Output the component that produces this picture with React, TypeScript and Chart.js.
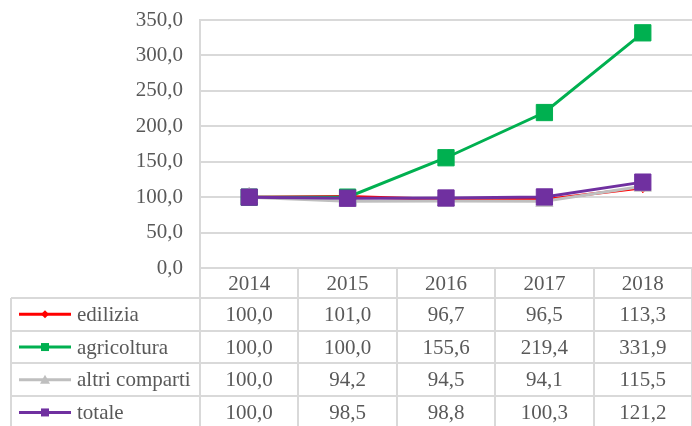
import React, { useEffect, useRef } from 'react';
import { Chart, registerables } from 'chart.js';

Chart.register(...registerables);

const years = ['2014', '2015', '2016', '2017', '2018'];
const seriesNames = ['edilizia', 'agricoltura', 'altri comparti', 'totale'];
const edilizia = [100.0, 101.0, 96.7, 96.5, 113.3];
const agricoltura = [100.0, 100.0, 155.6, 219.4, 331.9];
const altriComparti = [100.0, 94.2, 94.5, 94.1, 115.5];
const totale = [100.0, 98.5, 98.8, 100.3, 121.2];
const yMin = 0;
const yMax = 350;
const yStep = 50;

const colors = ['#FF0000', '#00B050', '#BFBFBF', '#7030A0'];
const markerStyles = ['rectRot', 'rect', 'triangle', 'rect'];
const FONT = '"Liberation Serif", "Times New Roman", serif';
const FONT_SIZE = 21;
const TEXT = '#595959';
const GRID = '#D9D9D9';

const fmt = (v: number) => v.toFixed(1).replace('.', ',');

const tablePlugin = {
  id: 'dataTable',
  afterDraw(chart: any) {
    const ctx = chart.ctx as CanvasRenderingContext2D;
    const area = chart.chartArea;
    const xs = chart.scales.x;
    const H = chart.height;
    const n = years.length;
    const step = (area.right - area.left) / n;
    const top = area.bottom;
    const headerBottom = top + 30;
    const rowH = 32.7;
    const leftX = 11;
    const data = [edilizia, agricoltura, altriComparti, totale];

    ctx.save();
    ctx.strokeStyle = GRID;
    ctx.lineWidth = 2;
    ctx.beginPath();
    for (let i = 0; i <= n; i++) {
      const xi = Math.round(area.left + i * step);
      ctx.moveTo(xi, top);
      ctx.lineTo(xi, H + 10);
    }
    ctx.moveTo(leftX, headerBottom);
    ctx.lineTo(leftX, H + 10);
    for (let r = 0; r <= data.length; r++) {
      const y = Math.round(headerBottom + r * rowH);
      ctx.moveTo(leftX, y);
      ctx.lineTo(area.right + 5, y);
    }
    ctx.stroke();

    ctx.fillStyle = TEXT;
    ctx.font = `${FONT_SIZE}px ${FONT}`;
    ctx.textBaseline = 'middle';
    ctx.textAlign = 'center';
    for (let i = 0; i < n; i++) {
      const cx = xs.getPixelForValue(i);
      ctx.fillText(years[i], cx, top + 16);
      for (let r = 0; r < data.length; r++) {
        const cy = headerBottom + r * rowH + rowH / 2 + 1;
        ctx.fillText(fmt(data[r][i]), cx, cy);
      }
    }

    // legend keys
    for (let r = 0; r < data.length; r++) {
      const cy = headerBottom + r * rowH + rowH / 2;
      ctx.strokeStyle = colors[r];
      ctx.lineWidth = 3;
      ctx.beginPath();
      ctx.moveTo(19, cy);
      ctx.lineTo(71, cy);
      ctx.stroke();
      ctx.fillStyle = colors[r];
      const mx = 45;
      ctx.beginPath();
      if (markerStyles[r] === 'rectRot') {
        ctx.moveTo(mx, cy - 4);
        ctx.lineTo(mx + 4, cy);
        ctx.lineTo(mx, cy + 4);
        ctx.lineTo(mx - 4, cy);
        ctx.closePath();
      } else if (markerStyles[r] === 'triangle') {
        ctx.moveTo(mx, cy - 5);
        ctx.lineTo(mx + 5, cy + 4);
        ctx.lineTo(mx - 5, cy + 4);
        ctx.closePath();
      } else {
        ctx.rect(mx - 4, cy - 4, 8, 8);
      }
      ctx.fill();
      ctx.fillStyle = TEXT;
      ctx.textAlign = 'left';
      ctx.fillText(seriesNames[r], 77, cy + 1);
      ctx.textAlign = 'center';
    }
    ctx.restore();
  },
};

export default function App() {
  const ref = useRef<HTMLCanvasElement>(null);
  useEffect(() => {
    if (!ref.current) return;
    const series = [edilizia, agricoltura, altriComparti, totale];
    const radii = [5, 11.5, 10, 11.5];
    const orders = [3, 2, 1, 0];
    const chart = new Chart(ref.current, {
      type: 'line',
      data: {
        labels: years,
        datasets: series.map((d, i) => ({
          label: seriesNames[i],
          data: d,
          borderColor: colors[i],
          backgroundColor: colors[i],
          borderWidth: 3,
          pointStyle: markerStyles[i] as any,
          pointRadius: radii[i],
          pointHoverRadius: radii[i],
          pointBorderWidth: 1,
          tension: 0,
          order: orders[i],
          clip: false as any,
        })),
      },
      options: {
        responsive: false,
        animation: false,
        layout: { autoPadding: false, padding: { left: 0, right: 0, top: 20, bottom: 158 } },
        plugins: { legend: { display: false }, tooltip: { enabled: false } },
        scales: {
          x: {
            display: false,
            offset: true,
          },
          y: {
            min: yMin,
            max: yMax,
            ticks: {
              stepSize: yStep,
              padding: 17,
              color: TEXT,
              font: { family: FONT, size: FONT_SIZE },
              callback: (v: any) => fmt(Number(v)),
            },
            grid: { color: GRID, lineWidth: 2, drawTicks: false },
            border: { color: GRID, width: 2 },
            afterFit: (s: any) => {
              s.width = 200;
              s.paddingTop = 0;
              s.paddingBottom = 0;
            },
          },
        },
      },
      plugins: [tablePlugin],
    });
    return () => chart.destroy();
  }, []);
  return (
    <div style={{ position: 'fixed', left: 0, top: 0, width: 692, height: 426, background: '#fff' }}>
      <canvas ref={ref} width={692} height={426} style={{ display: 'block' }} />
    </div>
  );
}
